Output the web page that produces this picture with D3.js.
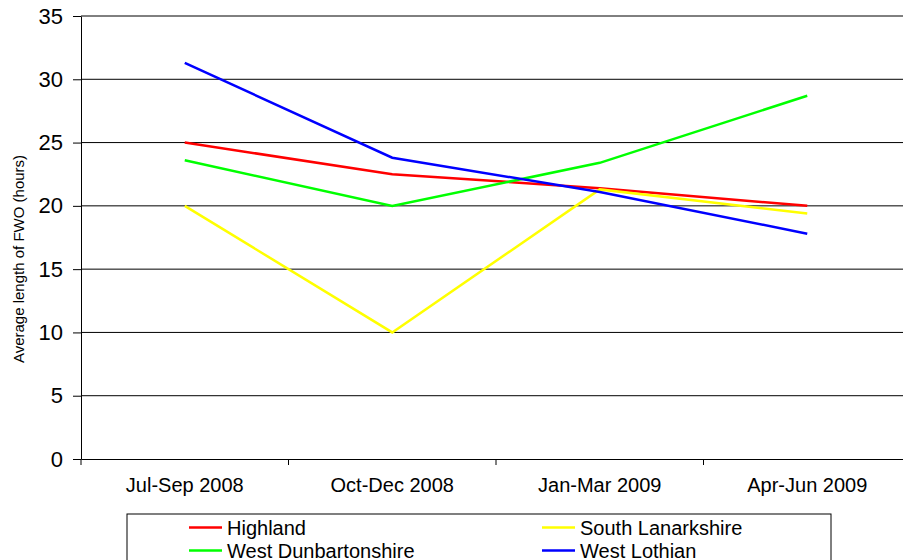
<!DOCTYPE html>
<html>
<head>
<meta charset="utf-8">
<script src="https://cdn.jsdelivr.net/npm/d3@7"></script>
<style>
  body { margin: 0; background: #fff; }
  svg { display: block; font-family: Arial, "Liberation Sans", sans-serif; }
</style>
</head>
<body>
<div id="app"></div>
<script>
const quarters = ['Jul-Sep 2008', 'Oct-Dec 2008', 'Jan-Mar 2009', 'Apr-Jun 2009'];
const areas = ['Highland', 'South Lanarkshire', 'West Dunbartonshire', 'West Lothian'];
const highland = [25.0, 22.5, 21.4, 20.0];
const southLanarkshire = [20.0, 10.0, 21.3, 19.4];
const westDunbartonshire = [23.6, 20.0, 23.4, 28.7];
const westLothian = [31.3, 23.8, 21.1, 17.8];
const yTicks = [0, 5, 10, 15, 20, 25, 30, 35];
const colours = ['#ff0000', '#ffff00', '#00ff00', '#0000ff'];

const series = [highland, southLanarkshire, westDunbartonshire, westLothian];

const width = 903;
const height = 560;
const plotLeft = 81, plotRight = 911, plotTop = 16, plotBottom = 459;

const svg = d3.select('#app').append('svg')
  .attr('width', width)
  .attr('height', height);

const x = d3.scaleBand().domain(quarters).range([plotLeft, plotRight]);
const y = d3.scaleLinear().domain([0, 35]).range([plotBottom, plotTop]);

// gridlines
svg.append('g')
  .selectAll('line').data(yTicks.slice(1))
  .enter().append('line')
  .attr('x1', plotLeft).attr('x2', plotRight)
  .attr('y1', d => y(d)).attr('y2', d => y(d))
  .attr('stroke', '#000').attr('stroke-width', 1);

// y axis
const yAxis = svg.append('g')
  .attr('transform', `translate(${plotLeft},0)`)
  .call(d3.axisLeft(y).tickValues(yTicks).tickSize(8).tickPadding(10).tickSizeOuter(0));
yAxis.select('.domain').attr('stroke', '#000');
yAxis.selectAll('.tick line').attr('stroke', '#000');
yAxis.selectAll('.tick text')
  .attr('font-size', 22).attr('font-family', 'Arial, "Liberation Sans", sans-serif').attr('fill', '#000');

// x axis
const xAxis = svg.append('g')
  .attr('transform', `translate(0,${plotBottom})`)
  .call(d3.axisBottom(x).tickSize(0).tickPadding(19).tickSizeOuter(0));
xAxis.select('.domain').attr('stroke', '#000');
xAxis.selectAll('.tick text')
  .attr('font-size', 20).attr('font-family', 'Arial, "Liberation Sans", sans-serif').attr('fill', '#000');
xAxis.selectAll('.boundary')
  .data(quarters)
  .enter().append('line')
  .attr('x1', d => x(d)).attr('x2', d => x(d))
  .attr('y1', 0).attr('y2', 6)
  .attr('stroke', '#000');

// y title
svg.append('text')
  .attr('transform', 'translate(24,259) rotate(-90)')
  .attr('text-anchor', 'middle')
  .attr('font-size', 15)
  .text('Average length of FWO (hours)');

// lines
const line = d3.line()
  .x((d, i) => x(quarters[i]) + x.bandwidth() / 2)
  .y(d => y(d));

svg.append('g')
  .selectAll('path').data(series)
  .enter().append('path')
  .attr('d', line)
  .attr('fill', 'none')
  .attr('stroke', (d, i) => colours[i])
  .attr('stroke-width', 2.5);

// legend
const legend = svg.append('g');
legend.append('rect')
  .attr('x', 127).attr('y', 514)
  .attr('width', 704).attr('height', 80)
  .attr('fill', '#fff').attr('stroke', '#000').attr('stroke-width', 1);

const legendX = [189, 542];
const legendY = [527.5, 550.5];
const item = legend.selectAll('.item').data(areas)
  .enter().append('g')
  .attr('transform', (d, i) => `translate(${legendX[i % 2]},${legendY[Math.floor(i / 2)]})`);
item.append('line')
  .attr('x1', 0).attr('x2', 33)
  .attr('stroke', (d, i) => colours[i])
  .attr('stroke-width', 2.5);
item.append('text')
  .attr('x', 38).attr('dy', '0.36em')
  .attr('font-size', 20)
  .text(d => d);
</script>
</body>
</html>
